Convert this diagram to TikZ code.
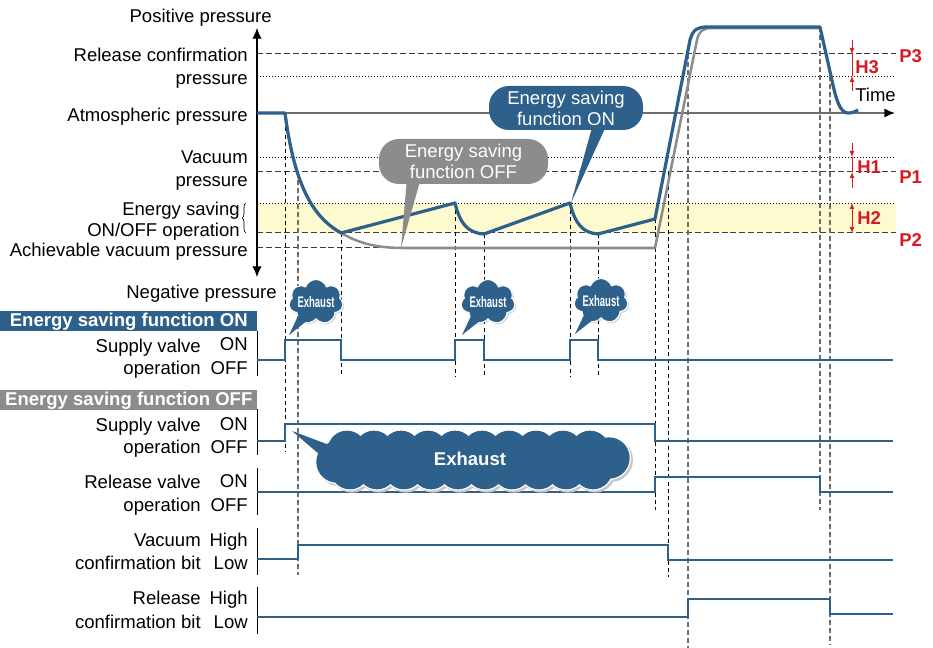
\documentclass[tikz,border=0pt]{standalone}
\usepackage{fontspec}
\usepackage{graphicx}
\setmainfont{Liberation Sans}
\usetikzlibrary{arrows.meta,shapes.symbols,shadows,decorations.pathreplacing}
\definecolor{esblue}{RGB}{45,96,138}
\definecolor{esgray}{RGB}{140,140,140}
\definecolor{esyellow}{RGB}{253,250,208}
\definecolor{esred}{RGB}{215,25,32}
\definecolor{axgray}{RGB}{110,110,110}
\definecolor{dashgray}{RGB}{60,60,60}
\definecolor{shadowgray}{RGB}{200,200,200}
\newcommand{\bigcloud}[4]{%
 \begin{scope}[shift={(#1,#2)}]
 \fill[#4] (335,446) rectangle (612,474);
 \foreach \cx in {347,374,...,590} \fill[#4] (\cx,450) circle[radius=14.5pt+#3];
 \foreach \cx in {350,377,...,593} \fill[#4] (\cx,470) circle[radius=14.5pt+#3];
 \fill[#4] (337,462) circle[radius=15.5pt+#3];
 \fill[#4] (609,458) circle[radius=15.5pt+#3];
 \end{scope}}
\begin{document}
\begin{tikzpicture}[x=0.75pt,y=-0.75pt,
  font=\fontsize{13.9}{15.8}\selectfont,
  lblE/.style={anchor=mid east,inner sep=0pt,yshift=-2.25pt},
  lblW/.style={anchor=mid west,inner sep=0pt,yshift=-2.25pt},
  redlbl/.style={anchor=mid west,inner sep=0pt,yshift=-2.25pt,text=esred,font=\fontsize{13.9}{15.8}\selectfont\bfseries},
  hdash/.style={dashgray,line width=0.75pt,dash pattern=on 4.5pt off 2.2pt},
  hdot/.style={black,line width=0.6pt,dash pattern=on 0.75pt off 1.5pt},
  vdash/.style={black,line width=0.6pt,dash pattern=on 3pt off 2.4pt},
  vdashg/.style={axgray,line width=1pt,dash pattern=on 3.6pt off 2.4pt},
  sig/.style={esblue,line width=2.2pt,line join=miter},
  tick/.style={black,line width=0.75pt},
  header/.style={anchor=north west,inner sep=0pt,minimum width=192.75pt,minimum height=15pt,text=white,font=\fontsize{13.9}{15.8}\selectfont\bfseries},
  callout/.style={rounded corners=15pt,text=white,align=center,inner sep=0pt},
  puff/.style={cloud,cloud ignores aspect,fill=esblue,draw=white,line width=0.8pt,text=white,inner sep=0pt,
    drop shadow={shadow xshift=1.2pt,shadow yshift=-1.2pt,opacity=0.3}},
  harrow/.style={esred,line width=0.6pt,-{Latex[length=4.5pt,width=3.6pt]}}
]
\useasboundingbox (0,0) rectangle (933,648);

% yellow band
\fill[esyellow] (257,203) rectangle (896,233);

% horizontal reference lines
\draw[hdash] (257,54) -- (896,54);
\draw[hdot]  (257,76) -- (896,76);
\draw[hdot]  (257,157) -- (896,157);
\draw[hdash] (257,172) -- (896,172);
\draw[hdot]  (257,203) -- (896,203);
\draw[hdash] (257,233) -- (896,233);
\draw[hdash] (257,248) -- (655,248);

% vertical timing lines
\draw[vdash]  (285,113) -- (285,452);
\draw[vdashg] (298,172) -- (298,575);
\draw[vdash]  (341,233) -- (341,376);
\draw[vdash]  (455,203) -- (455,376);
\draw[vdash]  (484,234) -- (484,376);
\draw[vdash]  (570,203) -- (570,376);
\draw[vdash]  (598,234) -- (598,376);
\draw[vdash]  (655,219) -- (655,510);
\draw[vdash]  (668,172) -- (668,577);
\draw[vdashg] (688,54) -- (688,648);
\draw[vdashg] (820,27) -- (820,510);
\draw[vdashg] (830,76) -- (830,645);

% axes
\draw[line width=0.8pt,{Latex[length=8pt,width=7pt]}-{Latex[length=8pt,width=7pt]}] (257,277) -- (257,28);
\draw[axgray,line width=1.3pt,-{Latex[color=black,length=8pt,width=7pt]}] (257,113) -- (895,113);

% pressure curves
\draw[esgray,line width=1.9pt,line join=round]
  (285,113) .. controls (295,190) and (315,218) .. (341,233)
  .. controls (362,245) and (380,248) .. (405,248) -- (655,248) -- (697,40)
  .. controls (699,31) and (703,28) .. (712,28) -- (820,28);
\draw[esblue,line width=2.4pt,line join=round]
  (257,113) -- (285,113) .. controls (295,190) and (315,218) .. (341,233)
  -- (455,203) .. controls (460,224) and (468,233) .. (484,234)
  -- (570,203) .. controls (575,224) and (583,233) .. (598,234)
  -- (655,219) -- (690,40) .. controls (693,29) and (698,27) .. (707,27)
  -- (820,27) -- (831,76) .. controls (836,100) and (840,113) .. (848,113)
  .. controls (852,113) and (855,112) .. (858,110);

% callouts
\coordinate (tipoff) at (401,248);
\coordinate (tipon) at (571,203);
\fill[esgray] (407,178) -- (tipoff) -- (421,178) -- cycle;
\node[callout,fill=esgray,minimum width=126.75pt,minimum height=33.75pt] (coff) at (463.5,161.5) {Energy saving\\function OFF};
\fill[esblue] (593,124) -- (tipon) -- (607,124) -- cycle;
\node[callout,fill=esblue,minimum width=115.5pt,minimum height=33pt] (con) at (566,108) {Energy saving\\function ON};

% left pressure labels
\node[lblE] (lpos) at (272,16) {Positive pressure};
\node[lblE] (lrc1) at (248,55) {Release confirmation};
\node[lblE] (lrc2) at (248,78) {pressure};
\node[lblE] (latm) at (248,115) {Atmospheric pressure};
\node[lblE] (lvac1) at (248,157) {Vacuum};
\node[lblE] (lvac2) at (248,180) {pressure};
\node[lblE] (les1) at (240,209) {Energy saving};
\node[lblE] (les2) at (240,230) {ON/OFF operation};
\node[lblE] (lach) at (248,250) {Achievable vacuum pressure};
\node[lblE] (lneg) at (277,292) {Negative pressure};
\draw[line width=0.5pt,decorate,decoration={brace,amplitude=3pt}] (246,233) -- (246,203);

% right annotations
\node[lblW] (ltime) at (855,95) {Time};
\draw[harrow] (852,40) -- (852,54);
\draw[esred,line width=0.6pt] (852,54) -- (852,76);
\draw[harrow] (852,91) -- (852,76);
\draw[harrow] (852,143) -- (852,157);
\draw[esred,line width=0.6pt] (852,157) -- (852,172);
\draw[harrow] (852,188) -- (852,172);
\draw[esred,line width=0.6pt,{Latex[length=4.5pt,width=3.6pt]}-{Latex[length=4.5pt,width=3.6pt]}] (852,203) -- (852,233);
\node[redlbl] (h3) at (855,67) {H3};
\node[redlbl] (h1) at (857,167) {H1};
\node[redlbl] (h2) at (857,218) {H2};
\node[redlbl] (p3) at (899,56) {P3};
\node[redlbl] (p1) at (899,177) {P1};
\node[redlbl] (p2) at (899,240) {P2};

% headers
\node[header,fill=esblue] (hon) at (0,311) {Energy saving function ON};
\node[header,fill=esgray] (hoff) at (0,390) {Energy saving function OFF};

% signal axis ticks
\draw[tick] (257,331) -- (257,376);
\draw[tick] (257,409) -- (257,455);
\draw[tick] (257,468) -- (257,515);
\draw[tick] (257,528) -- (257,575);
\draw[tick] (257,587) -- (257,634);

% signal labels
\node[lblE] at (201,346) (s1a) {Supply valve};
\node[lblE] at (248,344) (s1b) {ON};
\node[lblE] at (201,368) (s1c) {operation};
\node[lblE] at (248,368) (s1d) {OFF};
\node[lblE] at (201,425) (s2a) {Supply valve};
\node[lblE] at (248,424) (s2b) {ON};
\node[lblE] at (201,447) (s2c) {operation};
\node[lblE] at (248,447) (s2d) {OFF};
\node[lblE] at (201,482) (s3a) {Release valve};
\node[lblE] at (248,481) (s3b) {ON};
\node[lblE] at (201,505) (s3c) {operation};
\node[lblE] at (248,505) (s3d) {OFF};
\node[lblE] at (201,540) (s4a) {Vacuum};
\node[lblE] at (248,540) (s4b) {High};
\node[lblE] at (201,563) (s4c) {confirmation bit};
\node[lblE] at (248,563) (s4d) {Low};
\node[lblE] at (201,598) (s5a) {Release};
\node[lblE] at (248,598) (s5b) {High};
\node[lblE] at (201,622) (s5c) {confirmation bit};
\node[lblE] at (248,622) (s5d) {Low};

% signals
\draw[sig] (257,360) -- (285,360) -- (285,340) -- (341,340) -- (341,360) -- (455,360) -- (455,340) -- (484,340) -- (484,360) -- (570,360) -- (570,340) -- (598,340) -- (598,360) -- (893,360);
\draw[sig] (257,441) -- (285,441) -- (285,424) -- (655,424) -- (655,441) -- (893,441);
\draw[sig] (257,492) -- (655,492) -- (655,477) -- (820,477) -- (820,492) -- (893,492);
\draw[sig] (257,559) -- (298,559) -- (298,545) -- (668,545) -- (668,560) -- (893,560);
\draw[sig] (257,617) -- (688,617) -- (688,599) -- (830,599) -- (830,614) -- (893,614);

% exhaust clouds
\newcommand{\smallexh}{\scalebox{0.62}[1]{\fontsize{11.5}{12}\selectfont\bfseries Exhaust}}
\node[puff,cloud puffs=7,cloud puff arc=140,minimum width=40.5pt,minimum height=33.75pt] (ex1) at (316,302) {\smallexh};
\node[puff,cloud puffs=7,cloud puff arc=140,minimum width=40.5pt,minimum height=33.75pt] (ex2) at (488,302) {\smallexh};
\node[puff,cloud puffs=7,cloud puff arc=140,minimum width=40.5pt,minimum height=33.75pt] (ex3) at (601,301) {\smallexh};
\coordinate (t1) at (289,335);
\coordinate (t2) at (462,335);
\coordinate (t3) at (575,334);
\fill[esblue] (298,316) -- (t1) -- (308,320) -- cycle;
\fill[esblue] (471,316) -- (t2) -- (481,320) -- cycle;
\fill[esblue] (584,315) -- (t3) -- (594,319) -- cycle;
\bigcloud{2}{2}{1pt}{shadowgray}
\bigcloud{0}{0}{1pt}{white}
\bigcloud{0}{0}{0pt}{esblue}
\coordinate (tbig) at (292,431);
\fill[esblue] (332,446) -- (tbig) -- (326,460) -- cycle;
\node[text=white,font=\fontsize{13.9}{15.8}\selectfont\bfseries] (exbig) at (470,459) {Exhaust};
\end{tikzpicture}
\end{document}
